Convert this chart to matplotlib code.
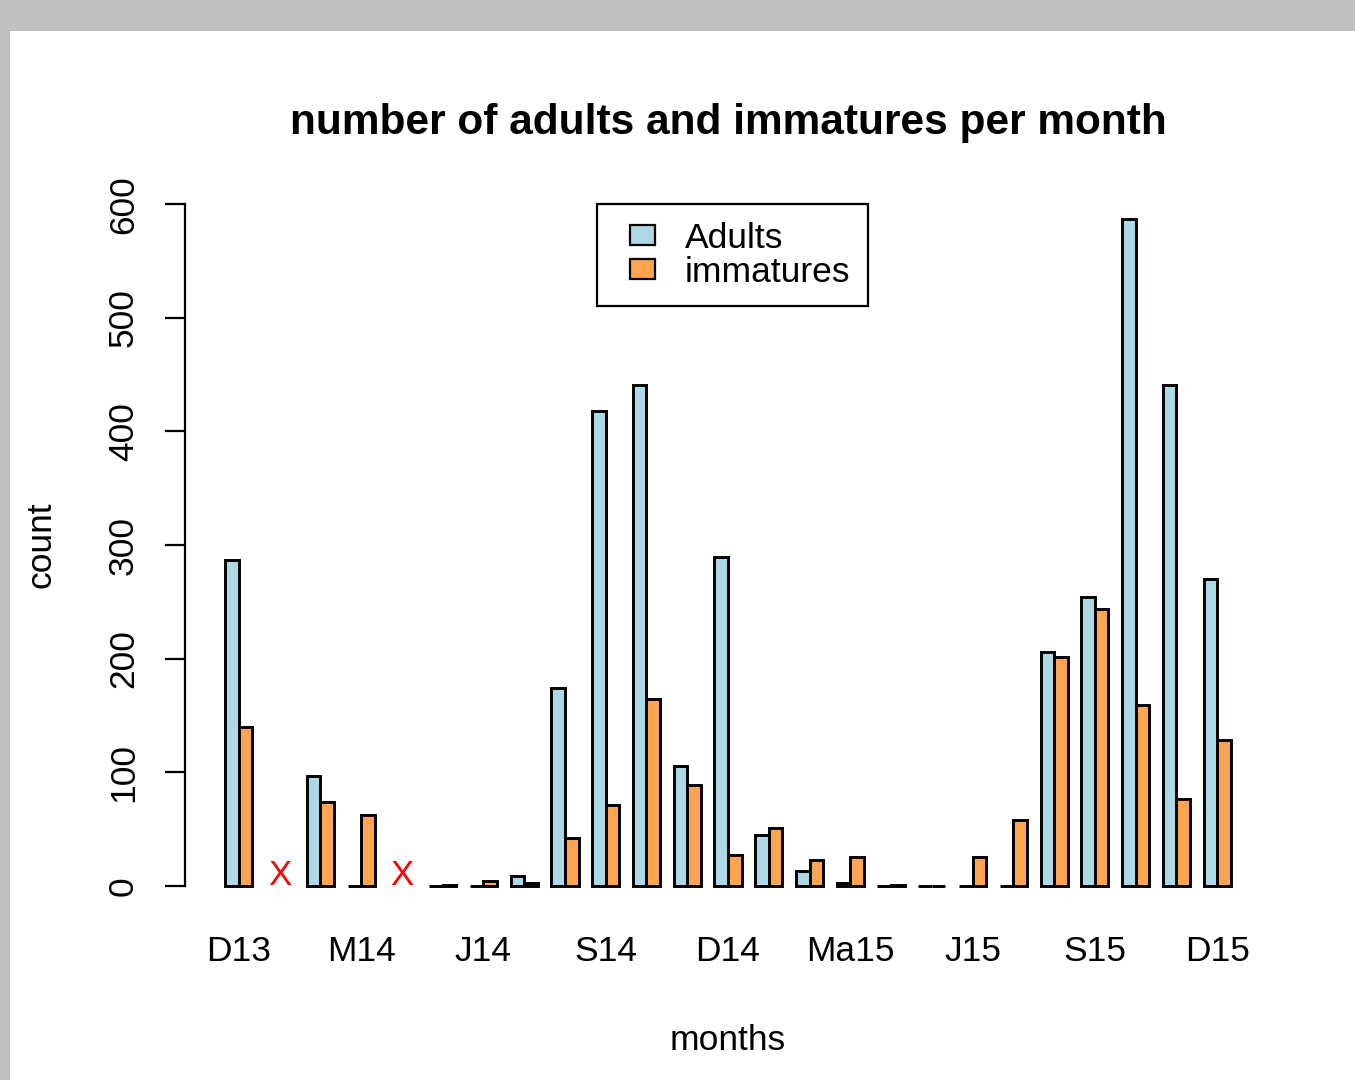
import matplotlib.pyplot as plt
import matplotlib.patches as mpatches
from matplotlib.legend_handler import HandlerPatch
import numpy as np

plt.rcParams['font.family'] = ['Liberation Sans', 'DejaVu Sans']

# months Dec 2013 .. Dec 2015, None = no data (drawn as red X)
months = ['D13', 'J14', 'F14', 'M14', 'A14', 'My14', 'J14', 'Jl14', 'Au14', 'S14',
          'O14', 'N14', 'D14', 'J15', 'F15', 'Ma15', 'A15', 'My15', 'J15', 'Jl15',
          'Au15', 'S15', 'O15', 'N15', 'D15']
adults = [287, None, 97, 0, None, 0, 0, 9, 174, 418, 441, 105, 289, 45, 13, 2,
          0, 0, 0, 0, 206, 254, 587, 441, 270]
immatures = [140, None, 74, 62, None, 1, 4, 2, 42, 71, 164, 89, 27, 51, 23, 25,
             1, 0, 25, 58, 201, 244, 159, 76, 128]
shown_labels = ['D13', '', '', 'M14', '', '', 'J14', '', '', 'S14', '', '', 'D14',
                '', '', 'Ma15', '', '', 'J15', '', '', 'S15', '', '', 'D15']

col_ad = '#ADD8E6'
col_im = '#FFA54F'
fs = 25.5


def small_box(legend, orig_handle, xdescent, ydescent, width, height, fontsize):
    # R style legend box: sits at the right end of the handle area
    w = 0.62 * width
    return mpatches.Rectangle((width - w - xdescent, -ydescent), w, height)


fig = plt.figure(figsize=(13.55, 10.8), dpi=100)
# grey window frame
fig.patches.append(mpatches.Rectangle((0, 1 - 31 / 1080), 1, 31 / 1080, transform=fig.transFigure,
                                      facecolor='#C0C0C0', edgecolor='none', zorder=0))
fig.patches.append(mpatches.Rectangle((0, 0), 10 / 1355, 1, transform=fig.transFigure,
                                      facecolor='#C0C0C0', edgecolor='none', zorder=0))

ax = fig.add_axes([185 / 1355, (1080 - 913) / 1080, (1271 - 185) / 1355, (913 - 177) / 1080])

n = len(months)
centers = 2 + 3 * np.arange(n)
for i in range(n):
    if adults[i] is None:
        ax.text(centers[i], 9, 'X', color='red', ha='center', va='center', fontsize=25)
        continue
    ax.bar(centers[i] - 0.5, adults[i], width=1, color=col_ad, edgecolor='black', linewidth=2.1)
    ax.bar(centers[i] + 0.5, immatures[i], width=1, color=col_im, edgecolor='black', linewidth=2.1)

ax.set_xlim(-1.96, 77.96)
ax.set_ylim(-24, 624)
for s in ['top', 'right', 'bottom']:
    ax.spines[s].set_visible(False)
ax.spines['left'].set_bounds(0, 600)
ax.spines['left'].set_linewidth(1.6)
ax.set_yticks(np.arange(0, 601, 100))
ax.tick_params(axis='y', length=14.4, width=1.6, labelsize=fs, pad=18)
for lab in ax.get_yticklabels():
    lab.set_rotation(90)
    lab.set_va('center')
ax.set_xticks(centers)
ax.set_xticklabels(shown_labels)
ax.tick_params(axis='x', length=0, labelsize=fs, pad=16)

ax.set_ylabel('count', fontsize=fs, labelpad=36)
ax.set_xlabel('months', fontsize=fs, labelpad=40)
ax.set_title('number of adults and immatures per month', fontsize=30.5, fontweight='bold', pad=31)

handles = [mpatches.Patch(facecolor=col_ad, edgecolor='black', linewidth=1.6, label='Adults'),
           mpatches.Patch(facecolor=col_im, edgecolor='black', linewidth=1.6, label='immatures')]
leg = ax.legend(handles=handles, loc='upper left', bbox_to_anchor=((597 - 185) / 1086, (913 - 204) / 736),
                borderaxespad=0, fontsize=fs, frameon=True, fancybox=False, edgecolor='black',
                framealpha=1, handlelength=1.15, handleheight=0.5, labelspacing=0.03,
                borderpad=0.5, handletextpad=0.82,
                handler_map={mpatches.Patch: HandlerPatch(patch_func=small_box)})
leg.get_frame().set_linewidth(1.6)

fig.savefig('out.png', dpi=100)
